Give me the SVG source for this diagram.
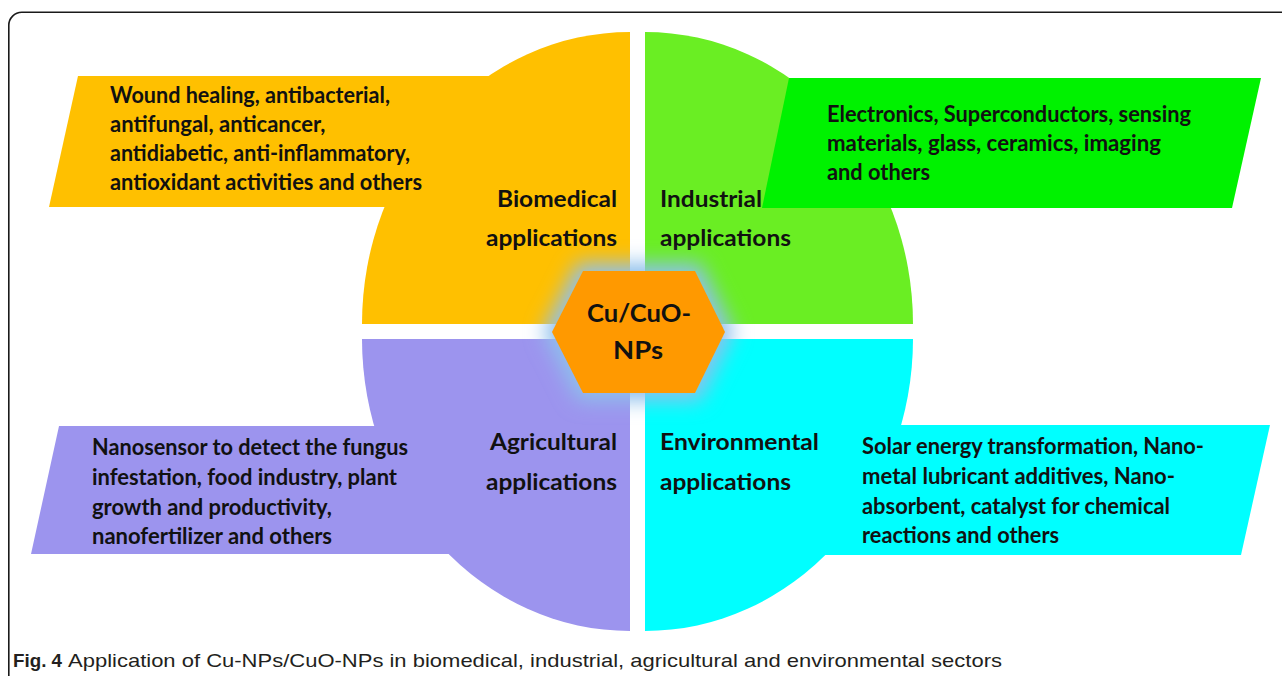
<svg xmlns="http://www.w3.org/2000/svg" width="1282" height="676" viewBox="0 0 1282 676">
  <defs>
    <filter id="glow" x="-40%" y="-40%" width="180%" height="180%">
      <feGaussianBlur stdDeviation="10"/>
    </filter>
  </defs>
  <style>
    .lbl { font-family: Lato, "Open Sans", "Liberation Sans", sans-serif; font-weight: bold; font-size: 22px; fill: #111; }
    .hex { font-family: Lato, "Open Sans", "Liberation Sans", sans-serif; font-weight: bold; font-size: 25px; fill: #111; }
    .cap { font-family: "Liberation Sans", Arial, sans-serif; font-size: 19px; fill: #231f20; }
    .capb { font-weight: bold; }
    .frame { fill: none; stroke: #1a1a1a; stroke-width: 1.6; }
  </style>

  <rect width="1282" height="676" fill="#ffffff"/>
  <!-- outer frame (open to the right and bottom) -->
  <rect class="frame" x="8.8" y="12.3" width="1300" height="700" rx="13"/>

  <!-- Biomedical sector -->
  <g id="biomedical">
    <path d="M630,324 L362,324 A268,292 0 0 1 630,32 Z" fill="#FFC000"/>
    <polygon points="78,76 630,76 630,207 49,207" fill="#FFC000"/>
    <text class="lbl" x="110" y="103" textLength="280" lengthAdjust="spacingAndGlyphs">Wound healing, antibacterial,</text>
    <text class="lbl" x="110" y="132">antifungal, anticancer,</text>
    <text class="lbl" x="110" y="161" textLength="300" lengthAdjust="spacingAndGlyphs">antidiabetic, anti-inflammatory,</text>
    <text class="lbl" x="110" y="190" textLength="312" lengthAdjust="spacingAndGlyphs">antioxidant activities and others</text>
    <text class="lbl" x="617" y="207" text-anchor="end" textLength="120" lengthAdjust="spacingAndGlyphs">Biomedical</text>
    <text class="lbl" x="617" y="246" text-anchor="end" textLength="131" lengthAdjust="spacingAndGlyphs">applications</text>
  </g>

  <!-- Industrial sector -->
  <g id="industrial">
    <path d="M645,324 L645,32 A268,292 0 0 1 913,324 Z" fill="#6AEE23"/>
    <polygon points="789,78 1261,78 1232,208 762,208" fill="#00F200"/>
    <text class="lbl" x="827" y="122" textLength="364" lengthAdjust="spacingAndGlyphs">Electronics, Superconductors, sensing</text>
    <text class="lbl" x="827" y="151" textLength="334" lengthAdjust="spacingAndGlyphs">materials, glass, ceramics, imaging</text>
    <text class="lbl" x="827" y="180" textLength="103" lengthAdjust="spacingAndGlyphs">and others</text>
    <text class="lbl" x="660" y="207" textLength="102" lengthAdjust="spacingAndGlyphs">Industrial</text>
    <text class="lbl" x="660" y="246" textLength="131" lengthAdjust="spacingAndGlyphs">applications</text>
  </g>

  <!-- Agricultural sector -->
  <g id="agricultural">
    <path d="M630,339 L630,631 A268,292 0 0 1 362,339 Z" fill="#9C94EE"/>
    <polygon points="59,426 630,426 630,554 31,554" fill="#9C94EE"/>
    <text class="lbl" x="92" y="455" textLength="316" lengthAdjust="spacingAndGlyphs">Nanosensor to detect the fungus</text>
    <text class="lbl" x="92" y="485" textLength="305" lengthAdjust="spacingAndGlyphs">infestation, food industry, plant</text>
    <text class="lbl" x="92" y="515" textLength="240" lengthAdjust="spacingAndGlyphs">growth and productivity,</text>
    <text class="lbl" x="92" y="544" textLength="240" lengthAdjust="spacingAndGlyphs">nanofertilizer and others</text>
    <text class="lbl" x="617" y="450" text-anchor="end" textLength="127" lengthAdjust="spacingAndGlyphs">Agricultural</text>
    <text class="lbl" x="617" y="490" text-anchor="end" textLength="131" lengthAdjust="spacingAndGlyphs">applications</text>
  </g>

  <!-- Environmental sector -->
  <g id="environmental">
    <path d="M645,339 L913,339 A268,292 0 0 1 645,631 Z" fill="#00FFFF"/>
    <polygon points="645,425 1270,425 1241,555 645,555" fill="#00FFFF"/>
    <text class="lbl" x="862" y="454" textLength="342" lengthAdjust="spacingAndGlyphs">Solar energy transformation, Nano-</text>
    <text class="lbl" x="862" y="484" textLength="313" lengthAdjust="spacingAndGlyphs">metal lubricant additives, Nano-</text>
    <text class="lbl" x="862" y="514" textLength="308" lengthAdjust="spacingAndGlyphs">absorbent, catalyst for chemical</text>
    <text class="lbl" x="862" y="543" textLength="197" lengthAdjust="spacingAndGlyphs">reactions and others</text>
    <text class="lbl" x="660" y="450" textLength="159" lengthAdjust="spacingAndGlyphs">Environmental</text>
    <text class="lbl" x="660" y="490" textLength="131" lengthAdjust="spacingAndGlyphs">applications</text>
  </g>

  <!-- central hexagon with a soft halo -->
  <g id="core">
    <polygon points="543,332 578,263 700,263 734,332 700,401 578,401" fill="#8EC0EC" filter="url(#glow)"/>
    <polygon points="552,332 583,271 695,271 725,332 695,393 583,393" fill="#FF9900"/>
    <text class="hex" x="639" y="322" text-anchor="middle" textLength="104" lengthAdjust="spacingAndGlyphs">Cu/CuO-</text>
    <text class="hex" x="638" y="359" text-anchor="middle" textLength="50" lengthAdjust="spacingAndGlyphs">NPs</text>
  </g>

  <!-- caption -->
  <g id="caption">
    <text class="cap" x="13" y="667"><tspan class="capb" textLength="49" lengthAdjust="spacingAndGlyphs">Fig. 4</tspan></text>
    <text class="cap" x="68" y="667" textLength="934" lengthAdjust="spacingAndGlyphs">Application of Cu-NPs/CuO-NPs in biomedical, industrial, agricultural and environmental sectors</text>
  </g>
</svg>
